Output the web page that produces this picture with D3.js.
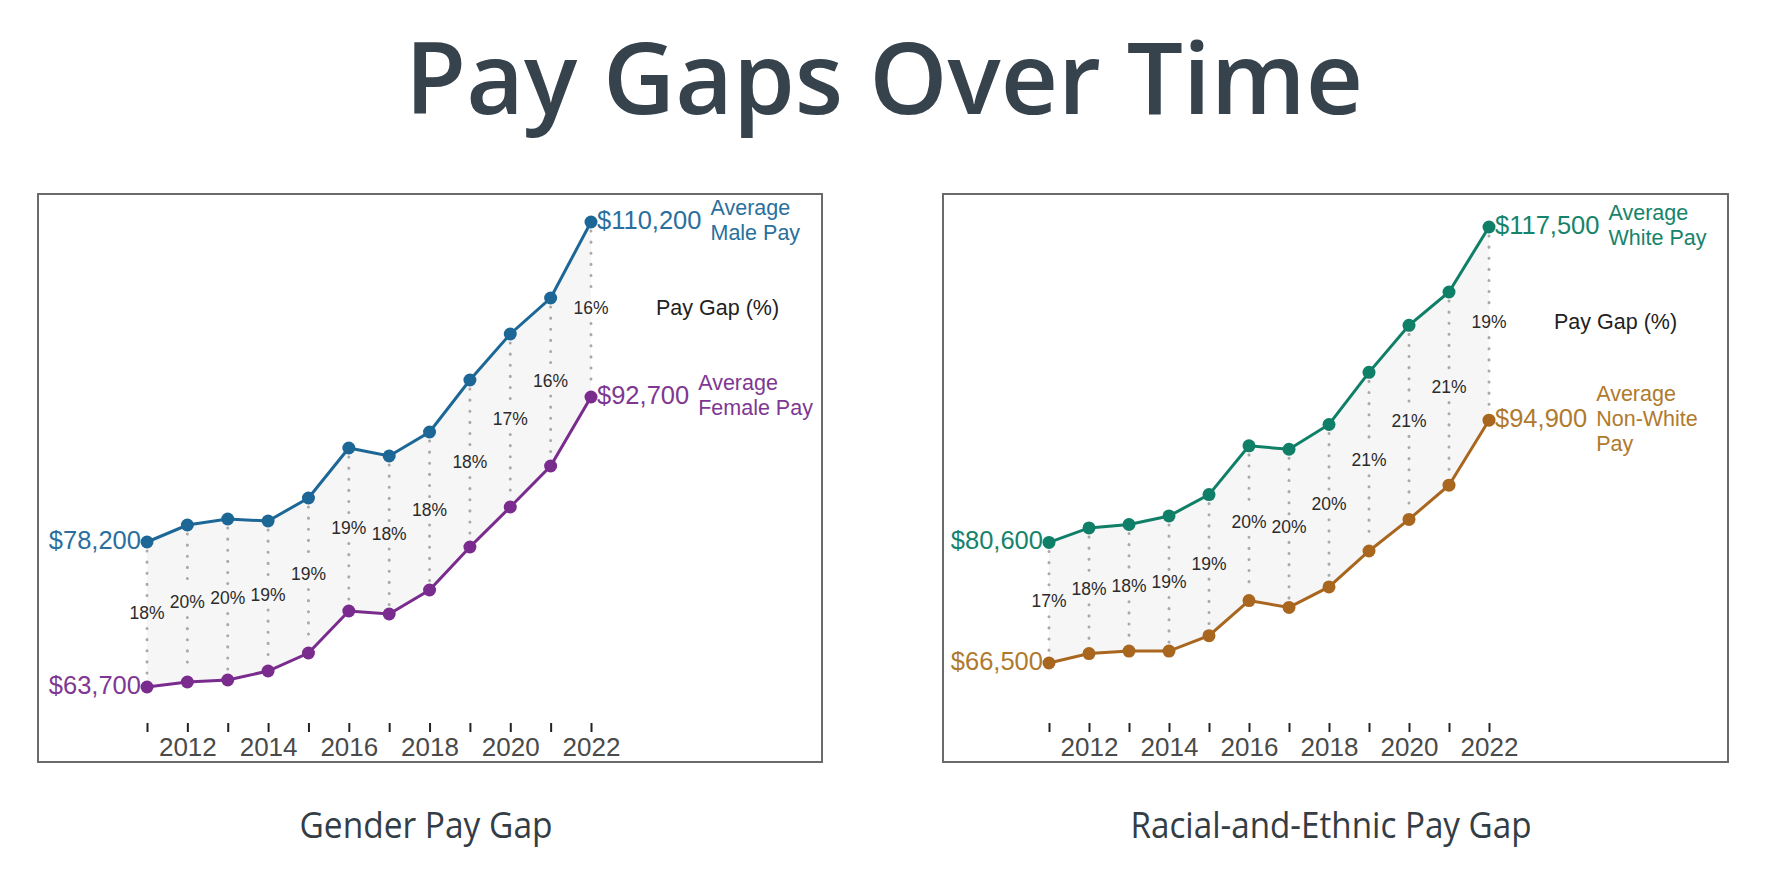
<!DOCTYPE html>
<html lang="en">
<head>
    <meta charset="utf-8">
    <title>Pay Gaps Over Time</title>
    <script src="https://d3js.org/d3.v7.min.js"></script>
    <style>
        body {
            margin: 0;
            background: #ffffff;
        }
        svg text {
            font-family: "Liberation Sans", Arial, sans-serif;
        }
        svg .heading {
            font-family: "Open Sans", sans-serif;
        }
        .tick line {
            stroke: #222;
            stroke-width: 2;
        }
        .tick text {
            fill: #4a4a4a;
            font-size: 26px;
        }
    </style>
</head>
<body>
    <svg id="chart"></svg>

    <script>
        // data
        var years = [2011, 2012, 2013, 2014, 2015, 2016, 2017, 2018, 2019, 2020, 2021, 2022];
        var tickLabelYears = [2012, 2014, 2016, 2018, 2020, 2022];

        var malePay   = [78200, 79900, 80500, 80300, 82600, 87600, 86800, 89200, 94400, 99000, 102600, 110200];
        var femalePay = [63700, 64200, 64400, 65300, 67100, 71300, 71000, 73400, 77700, 81700, 85800, 92700];
        var genderGap = [18, 20, 20, 19, 19, 19, 18, 18, 18, 17, 16, 16];

        var whitePay    = [80600, 82300, 82700, 83700, 86200, 91900, 91500, 94400, 100500, 106000, 109900, 117500];
        var nonWhitePay = [66500, 67600, 67900, 67900, 69700, 73800, 73000, 75400, 79600, 83300, 87300, 94900];
        var racialGap   = [17, 18, 18, 19, 19, 20, 20, 20, 21, 21, 21, 19];

        var width = 1765;
        var height = 872;

        var panels = [
            {
                title: "Gender Pay Gap", titleX: 426, titleWidth: 253,
                box: {x: 38, y: 194, w: 784, h: 568},
                xRange: [147, 591], yRange: [687, 222],
                upper: malePay, lower: femalePay, gap: genderGap,
                upperName: ["Average", "Male Pay"], lowerName: ["Average", "Female Pay"],
                upperColor: "#1d6797", upperText: "#2a6f9d",
                lowerColor: "#7a2b8e", lowerText: "#7e3893"
            },
            {
                title: "Racial-and-Ethnic Pay Gap", titleX: 1331, titleWidth: 401,
                box: {x: 943, y: 194, w: 785, h: 568},
                xRange: [1049, 1489], yRange: [663, 227],
                upper: whitePay, lower: nonWhitePay, gap: racialGap,
                upperName: ["Average", "White Pay"], lowerName: ["Average", "Non-White", "Pay"],
                upperColor: "#0f7f67", upperText: "#16836b",
                lowerColor: "#a8661f", lowerText: "#b07a2d"
            }
        ];

        var money = d3.format("$,");

        var svg = d3.select("#chart")
            .attr("width", width)
            .attr("height", height);

        svg.append("text")
            .attr("class", "heading")
            .attr("x", 884)
            .attr("y", 114)
            .attr("text-anchor", "middle")
            .attr("textLength", 958)
            .attr("lengthAdjust", "spacingAndGlyphs")
            .style("font-size", "100px")
            .style("font-weight", 600)
            .style("fill", "#36424c")
            .text("Pay Gaps Over Time");

        panels.forEach(function (p) {
            var g = svg.append("g");

            g.append("rect")
                .attr("x", p.box.x)
                .attr("y", p.box.y)
                .attr("width", p.box.w)
                .attr("height", p.box.h)
                .attr("fill", "#fff")
                .attr("stroke", "#6a6a6a")
                .attr("stroke-width", 2);

            var xscale = d3.scaleLinear()
                .domain(d3.extent(years))
                .range(p.xRange);
            var yscale = d3.scaleLinear()
                .domain([p.lower[0], p.upper[p.upper.length - 1]])
                .range(p.yRange);

            var rows = years.map(function (yr, i) {
                return {year: yr, hi: p.upper[i], lo: p.lower[i], gap: p.gap[i]};
            });

            // shaded band between the two series
            var area = d3.area()
                .x(function (d) { return xscale(d.year); })
                .y0(function (d) { return yscale(d.lo); })
                .y1(function (d) { return yscale(d.hi); });
            g.append("path")
                .datum(rows)
                .attr("d", area)
                .attr("fill", "#f6f6f6");

            // dotted connectors, broken round the gap label
            rows.forEach(function (d) {
                var top = yscale(d.hi), bot = yscale(d.lo), mid = (top + bot) / 2;
                [[top + 9, mid - 14], [mid + 14, bot - 9]].forEach(function (seg) {
                    g.append("line")
                        .attr("x1", xscale(d.year)).attr("x2", xscale(d.year))
                        .attr("y1", seg[0]).attr("y2", seg[1])
                        .attr("stroke", "#a9a9a9")
                        .attr("stroke-width", 3)
                        .attr("stroke-linecap", "round")
                        .attr("stroke-dasharray", "0.1,11");
                });
                g.append("text")
                    .attr("x", xscale(d.year))
                    .attr("y", mid)
                    .attr("text-anchor", "middle")
                    .attr("dominant-baseline", "middle")
                    .style("font-size", "17.5px")
                    .style("fill", "#2b2b2b")
                    .text(d.gap + "%");
            });

            var series = [
                {key: "hi", color: p.upperColor, text: p.upperText, name: p.upperName},
                {key: "lo", color: p.lowerColor, text: p.lowerText, name: p.lowerName}
            ];

            series.forEach(function (s) {
                var line = d3.line()
                    .x(function (d) { return xscale(d.year); })
                    .y(function (d) { return yscale(d[s.key]); });
                g.append("path")
                    .datum(rows)
                    .attr("d", line)
                    .attr("fill", "none")
                    .attr("stroke", s.color)
                    .attr("stroke-width", 3);

                g.selectAll(null)
                    .data(rows)
                    .enter()
                    .append("circle")
                    .attr("cx", function (d) { return xscale(d.year); })
                    .attr("cy", function (d) { return yscale(d[s.key]); })
                    .attr("r", 6.5)
                    .attr("fill", s.color);

                var first = rows[0], last = rows[rows.length - 1];

                g.append("text")
                    .attr("x", xscale(first.year) - 6)
                    .attr("y", yscale(first[s.key]))
                    .attr("text-anchor", "end")
                    .attr("dominant-baseline", "middle")
                    .style("font-size", "25.5px")
                    .style("fill", s.text)
                    .text(money(first[s.key]));

                var endLabel = g.append("text")
                    .attr("x", xscale(last.year) + 6)
                    .attr("y", yscale(last[s.key]))
                    .attr("dominant-baseline", "middle")
                    .style("font-size", "25.5px")
                    .style("fill", s.text)
                    .text(money(last[s.key]));

                var nameX = xscale(last.year) + 6 + endLabel.node().getComputedTextLength() + 9;
                var lineGap = 25;
                var y0 = yscale(last[s.key]) - (s.name.length - 1) * lineGap / 2;
                s.name.forEach(function (t, i) {
                    g.append("text")
                        .attr("x", nameX)
                        .attr("y", y0 + i * lineGap)
                        .attr("dominant-baseline", "middle")
                        .style("font-size", "21.5px")
                        .style("fill", s.text)
                        .text(t);
                });
            });

            var lastRow = rows[rows.length - 1];
            g.append("text")
                .attr("x", xscale(lastRow.year) + 65)
                .attr("y", (yscale(lastRow.hi) + yscale(lastRow.lo)) / 2)
                .attr("dominant-baseline", "middle")
                .style("font-size", "21.5px")
                .style("fill", "#222")
                .text("Pay Gap (%)");

            var xaxis = d3.axisBottom(xscale)
                .tickValues(years)
                .tickFormat(function (d) { return tickLabelYears.indexOf(d) >= 0 ? d : ""; })
                .tickSize(9)
                .tickPadding(6);
            g.append("g")
                .attr("transform", "translate(0,723)")
                .call(xaxis)
                .call(function (a) { a.select(".domain").remove(); });

            g.append("text")
                .attr("class", "heading")
                .attr("x", p.titleX)
                .attr("y", 838)
                .attr("text-anchor", "middle")
                .attr("textLength", p.titleWidth)
                .attr("lengthAdjust", "spacingAndGlyphs")
                .style("font-size", "37px")
                .style("fill", "#333d45")
                .text(p.title);
        });
    </script>
</body>
</html>
